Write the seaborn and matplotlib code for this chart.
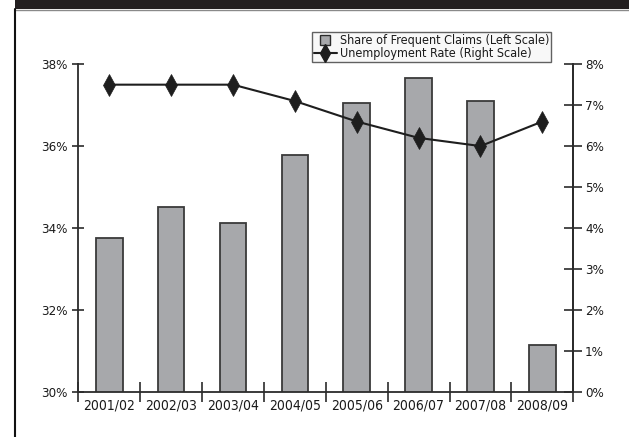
import numpy as np
import matplotlib
matplotlib.use("Agg")
import matplotlib.pyplot as plt
from matplotlib.patches import Rectangle
from matplotlib.lines import Line2D
from matplotlib.ticker import FixedLocator, FuncFormatter
import seaborn as sns

# Data
years = ["2001/02", "2002/03", "2003/04", "2004/05",
         "2005/06", "2006/07", "2007/08", "2008/09"]
frequent_claims_share = [33.76, 34.50, 34.13, 35.77, 37.05, 37.66, 37.10, 31.15]
unemployment_rate = [7.5, 7.5, 7.5, 7.1, 6.6, 6.2, 6.0, 6.6]
left_ticks = [30, 32, 34, 36, 38]
right_ticks = [0, 1, 2, 3, 4, 5, 6, 7, 8]

sns.set_theme(style="white")
plt.rcParams["font.family"] = ["DejaVu Sans"]
plt.rcParams["font.stretch"] = "condensed"
plt.rcParams["font.size"] = 10

DARK = "#2b2b2b"
BAR = "#a7a8ab"
TEXT = "#1a1a1a"

fig = plt.figure(figsize=(6.29, 4.37), dpi=100)
fig.patch.set_facecolor("white")

# page furniture: dark banner and left rule
fig.add_artist(Rectangle((15 / 629, 1 - 9 / 437), 1, 9 / 437, transform=fig.transFigure,
                         facecolor="#231f20", edgecolor="none"))
fig.add_artist(Line2D([15 / 629, 1], [1 - 9.5 / 437, 1 - 9.5 / 437], transform=fig.transFigure,
                      color="#8a8a8a", lw=1))
fig.add_artist(Line2D([15 / 629, 15 / 629], [0, 1 - 9 / 437], transform=fig.transFigure,
                      color="#111111", lw=1.5))

ax = fig.add_axes([78.3 / 629, 1 - 391.7 / 437, (573.3 - 78.3) / 629, (391.7 - 64.2) / 437])

sns.barplot(x=years, y=frequent_claims_share, ax=ax, color=BAR, width=0.43,
            edgecolor="#3a3a3a", linewidth=1.3, saturation=1)
ax.set_ylim(30, 38)
ax.set_xlim(-0.5, len(years) - 0.5)
ax.yaxis.set_major_locator(FixedLocator(left_ticks))
ax.yaxis.set_major_formatter(FuncFormatter(lambda v, p: f"{v:.0f}%"))
ax.tick_params(axis="y", which="major", direction="inout", length=9, width=1.2,
               color=DARK, labelsize=9.5, labelcolor=TEXT, pad=3, left=True)
ax.tick_params(axis="x", which="major", length=0, labelsize=10, labelcolor=TEXT, pad=5)
ax.set_xticks(np.arange(-0.5, len(years)), minor=True)
ax.tick_params(axis="x", which="minor", direction="inout", length=15, width=1.2,
               color=DARK, bottom=True)
ax.set_xlabel("")
ax.set_ylabel("")

for side in ["left", "bottom", "right"]:
    ax.spines[side].set_visible(True)
    ax.spines[side].set_color(DARK)
    ax.spines[side].set_linewidth(1.3)
ax.spines["top"].set_visible(False)

ax2 = ax.twinx()
sns.lineplot(x=np.arange(len(years)), y=unemployment_rate, ax=ax2, color="#1e1e1e",
             linewidth=1.5, marker="d", markersize=11, markeredgecolor="#1e1e1e",
             markeredgewidth=0.5, markerfacecolor="#1e1e1e")
ax2.set_ylim(0, 8)
ax2.set_xlim(-0.5, len(years) - 0.5)
ax2.yaxis.set_major_locator(FixedLocator(right_ticks))
ax2.yaxis.set_major_formatter(FuncFormatter(lambda v, p: f"{v:.0f}%"))
ax2.tick_params(axis="y", which="major", direction="inout", length=13, width=1.2,
                color=DARK, labelsize=9.5, labelcolor=TEXT, pad=2, right=True)
ax2.set_ylabel("")
for side in ["left", "top", "bottom"]:
    ax2.spines[side].set_visible(False)
ax2.spines["right"].set_color(DARK)
ax2.spines["right"].set_linewidth(1.3)

handles = [
    Line2D([0], [0], linestyle="none", marker="s", markersize=6.5,
           markerfacecolor=BAR, markeredgecolor="#2b2b2b", markeredgewidth=1.0),
    Line2D([0], [0], color="#1e1e1e", lw=1.5, marker="d", markersize=9),
]
labels = ["Share of Frequent Claims (Left Scale)", "Unemployment Rate (Right Scale)"]
leg = ax2.legend(handles, labels, loc="upper right", bbox_to_anchor=(0.955, 1.098),
                 borderaxespad=0, frameon=True, fancybox=False, fontsize=9,
                 handlelength=1.9, handletextpad=0.2, borderpad=0.15, labelspacing=0.02)
leg.get_frame().set_edgecolor("#3a3a3a")
leg.get_frame().set_facecolor("#f7f7f7")
leg.get_frame().set_linewidth(1.0)
for t in leg.get_texts():
    t.set_color(TEXT)

fig.savefig("out.png", dpi=100)
